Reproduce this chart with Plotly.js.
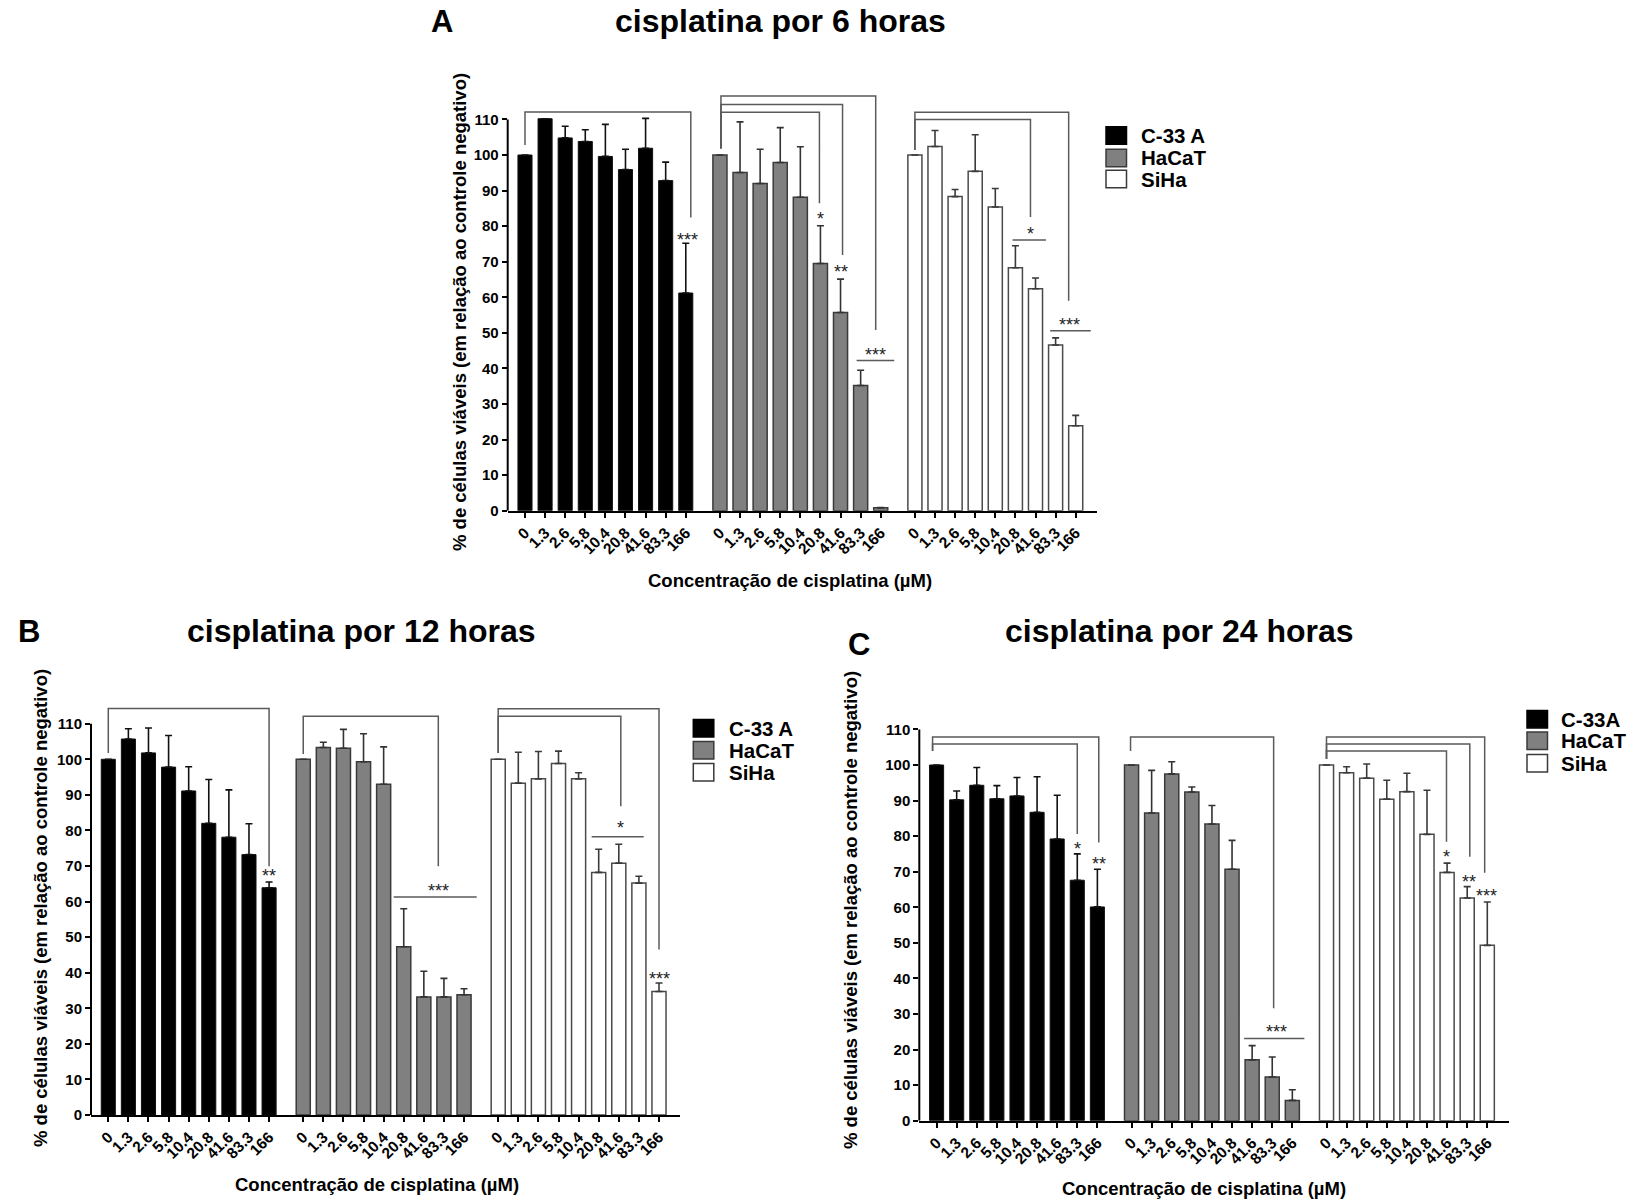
<!DOCTYPE html>
<html><head><meta charset="utf-8">
<script src="https://cdn.plot.ly/plotly-3.0.1.min.js"></script>
<style>html,body{margin:0;padding:0;background:#fff}#chart{width:1636px;height:1200px}</style>
</head><body><div id="chart"></div>
<script>
// ---------------- DATA ----------------
const conc = ['0','1.3','2.6','5.8','10.4','20.8','41.6','83.3','166'];
const yTickVals = [0,10,20,30,40,50,60,70,80,90,100,110];

// Panel A: cisplatina por 6 horas
const c33_6h      = [100,110.2,104.8,103.8,99.6,95.9,101.9,92.8,61.2];
const c33_6h_sd   = [0,0,3.3,3.3,9.0,5.7,8.4,5.2,14.0];
const hacat_6h    = [100,95.1,92.0,97.9,88.1,69.5,55.7,35.2,0.8];
const hacat_6h_sd = [0,14.2,9.6,9.8,14.2,10.6,9.4,4.3,0.1];
const siha_6h     = [100,102.4,88.3,95.4,85.4,68.3,62.4,46.6,23.9];
const siha_6h_sd  = [0,4.5,2.0,10.3,5.2,6.2,3.0,2.0,2.9];

// Panel B: cisplatina por 12 horas
const c33_12h      = [100,105.7,101.8,97.8,91.1,82.0,78.1,73.2,63.9];
const c33_12h_sd   = [0,2.9,7.0,8.9,6.8,12.3,13.3,8.7,1.6];
const hacat_12h    = [100,103.3,103.1,99.3,93.0,47.3,33.2,33.2,33.8];
const hacat_12h_sd = [0,1.5,5.3,7.9,10.5,10.7,7.2,5.2,1.7];
const siha_12h     = [100,93.3,94.5,98.8,94.5,68.2,70.8,65.2,34.7];
const siha_12h_sd  = [0,8.7,7.7,3.5,1.7,6.5,5.3,1.9,2.4];

// Panel C: cisplatina por 24 horas
const c33_24h      = [100,90.2,94.3,90.5,91.3,86.7,79.2,67.6,60.1];
const c33_24h_sd   = [0,2.5,5.0,3.7,5.2,10.0,12.3,7.4,10.6];
const hacat_24h    = [100,86.5,97.5,92.4,83.4,70.7,17.1,12.3,5.7];
const hacat_24h_sd = [0,12.0,3.4,1.4,5.2,8.1,4.0,5.6,3.0];
const siha_24h     = [100,97.8,96.3,90.4,92.5,80.5,69.8,62.6,49.3];
const siha_24h_sd  = [0,1.7,4.0,5.3,5.2,12.4,2.6,3.2,12.2];

// Significance brackets: [cell group, left index, right index, left-leg bottom, top, right-leg bottom]
const brackets_6h = [[0,0,8.25,102.8,112.1,82.4],[1,0.05,4.95,101.8,112.0,86.4],[1,0.05,6.1,101.8,114.2,71.9],
                     [1,0.05,7.75,101.8,116.6,50.8],[2,0,5.75,101.4,110.0,82.6],[2,0,7.65,101.4,112.0,59.0]];
const stars_6h = [[0,8.1,77.4,'***'],[1,5.0,83.1,'*'],[1,6.0,68.4,'**'],[1,7.75,45.0,'***'],[2,5.75,78.9,'*'],[2,7.7,53.4,'***']];
const lines_6h = [[1,6.8,8.67,42.2],[2,4.86,6.52,76.1],[2,6.73,8.75,50.6]];

const brackets_12h = [[0,0,8,101.8,114.3,69.9],[1,0,6.72,101.5,112.1,69.9],[2,0,6.1,101.8,112.1,86.8],[2,0,8.0,101.8,114.2,46.5]];
const stars_12h = [[0,8,68.4,'**'],[1,6.74,64.1,'***'],[2,6.1,81.8,'*'],[2,8.0,39.5,'***']];
const lines_12h = [[1,4.5,8.63,61.3],[2,4.65,7.24,78.2]];

const brackets_24h = [[0,-0.2,7,103.9,105.9,80.6],[0,-0.2,8.07,103.9,107.9,78.2],[1,-0.05,7.07,103.9,107.9,31.6],
                      [2,0,5.97,101.7,103.9,78.4],[2,0,7.13,101.7,105.9,74.2],[2,0,7.87,101.7,107.9,69.7]];
const stars_24h = [[0,7,77.7,'*'],[0,8.1,73.5,'**'],[1,7.2,26.0,'***'],[2,5.97,75.4,'*'],[2,7.1,68.4,'**'],[2,7.94,64.3,'***']];
const lines_24h = [[1,5.6,8.6,23.1]];

// ---------------- LAYOUT / STYLE ----------------
const W = 1636, H = 1200;
const FONT = 'Liberation Sans, Arial, Helvetica, sans-serif';
const GROUP = 9.7, BARW = 0.7, XR = [-0.86, 28.46];
const YMAX = 118, PXY = 3.557, PLOTW = 589.3;
const px = v => v / W, py = v => 1 - v / H;

const styles = [
  {fill:'#000000', line:'#111111', err:'#111111'},
  {fill:'#808080', line:'#3a3a3a', err:'#333333'},
  {fill:'#ffffff', line:'#4a4a4a', err:'#3a3a3a'}
];

const panels = [
  {ax:'', left:507.7, zero:510.7, series:[[c33_6h,c33_6h_sd],[hacat_6h,hacat_6h_sd],[siha_6h,siha_6h_sd]],
   brackets:brackets_6h, stars:stars_6h, lines:lines_6h,
   title:'cisplatina por 6 horas', titleX:780.8, titleY:21, letter:'A', letX:429, letY:22,
   yTitleX:459, yTitleY:312, xTitleX:790, xTitleY:580,
   legend:{x:1106, ys:[135.5,158,179], tx:1139, names:['C-33 A','HaCaT','SiHa']}},
  {ax:'2', left:91, zero:1115, series:[[c33_12h,c33_12h_sd],[hacat_12h,hacat_12h_sd],[siha_12h,siha_12h_sd]],
   brackets:brackets_12h, stars:stars_12h, lines:lines_12h,
   title:'cisplatina por 12 horas', titleX:361.4, titleY:631, letter:'B', letX:16, letY:631,
   yTitleX:40, yTitleY:908, xTitleX:377, xTitleY:1184,
   legend:{x:693.3, ys:[728.3,750.3,772.3], tx:727, names:['C-33 A','HaCaT','SiHa']}},
  {ax:'3', left:919.3, zero:1120.7, series:[[c33_24h,c33_24h_sd],[hacat_24h,hacat_24h_sd],[siha_24h,siha_24h_sd]],
   brackets:brackets_24h, stars:stars_24h, lines:lines_24h,
   title:'cisplatina por 24 horas', titleX:1179, titleY:631, letter:'C', letX:846, letY:644,
   yTitleX:850, yTitleY:910, xTitleX:1204, xTitleY:1188,
   legend:{x:1527, ys:[719.2,740.8,763.2], tx:1559, names:['C-33A','HaCaT','SiHa']}}
];

const traces = [], shapes = [], annotations = [];
const layout = {
  width: W, height: H, margin:{l:0,r:0,t:0,b:0},
  paper_bgcolor:'#ffffff', plot_bgcolor:'rgba(0,0,0,0)',
  showlegend:false, bargap:0,
  font:{family:FONT, color:'#000'}
};

const xPos = (g, i) => g * GROUP + i;
const tickVals = [], tickText = [];
for (let g = 0; g < 3; g++) conc.forEach((c, i) => { tickVals.push(xPos(g, i)); tickText.push(c); });

panels.forEach((p) => {
  const xa = 'x' + p.ax, ya = 'y' + p.ax;
  const top = p.zero - YMAX * PXY;
  layout['xaxis' + p.ax] = {
    domain:[px(p.left), px(p.left + PLOTW)], anchor: ya, range: XR,
    tickmode:'array', tickvals: tickVals, ticktext: tickText, tickangle:-45,
    ticks:'outside', ticklen:5, tickwidth:2, tickcolor:'#000',
    showline:true, linewidth:2, linecolor:'#000', showgrid:false, zeroline:false,
    tickfont:{family:FONT, size:15.5, color:'#000', weight:700}, fixedrange:true
  };
  layout['yaxis' + p.ax] = {
    domain:[py(p.zero), py(top)], anchor: xa, range:[0, YMAX],
    tickmode:'array', tickvals: yTickVals, ticks:'outside', ticklen:5, tickwidth:2, tickcolor:'#000',
    showline:false, showgrid:false, zeroline:false,
    tickfont:{family:FONT, size:15, color:'#000', weight:700}, fixedrange:true
  };
  // y axis line only from 0 to 110
  shapes.push({type:'line', xref: xa + ' domain', yref: ya, x0:0, x1:0, y0:0, y1:110,
               line:{color:'#000', width:2}, layer:'above'});

  p.series.forEach((s, g) => {
    const st = styles[g];
    traces.push({
      type:'bar', xaxis: xa, yaxis: ya,
      x: conc.map((c, i) => xPos(g, i)), y: s[0], width: BARW,
      marker:{color: st.fill, line:{color: st.line, width: g === 0 ? 1 : 1.5}},
      error_y:{type:'data', symmetric:false, array: s[1], arrayminus: s[1].map(() => 0),
               color: st.err, thickness:1.6, width:3.5},
      hoverinfo:'skip', showlegend:false
    });
  });

  p.brackets.forEach(b => {
    const xl = xPos(b[0], b[1]), xr = xPos(b[0], b[2]);
    shapes.push({type:'path', xref: xa, yref: ya,
      path:`M${xl},${b[3]} L${xl},${b[4]} L${xr},${b[4]} L${xr},${b[5]}`,
      line:{color:'#5a5a5a', width:1.5}});
  });
  p.lines.forEach(l => {
    shapes.push({type:'line', xref: xa, yref: ya, x0: xPos(l[0], l[1]), x1: xPos(l[0], l[2]), y0: l[3], y1: l[3],
      line:{color:'#5a5a5a', width:1.5}});
  });
  p.stars.forEach(s => {
    annotations.push({xref: xa, yref: ya, x: xPos(s[0], s[1]), y: s[2] - 1.2, text: s[3], showarrow:false,
      xanchor:'center', yanchor:'middle', font:{family:FONT, size:18, color:'#222'}});
  });

  // titles
  annotations.push({xref:'paper', yref:'paper', x: px(p.titleX), y: py(p.titleY), text: p.title, showarrow:false,
    xanchor:'center', yanchor:'middle', font:{family:FONT, size:32, color:'#000', weight:'bold'}});
  annotations.push({xref:'paper', yref:'paper', x: px(p.letX), y: py(p.letY), text: p.letter, showarrow:false,
    xanchor:'left', yanchor:'middle', font:{family:FONT, size:31, color:'#000', weight:'bold'}});
  annotations.push({xref:'paper', yref:'paper', x: px(p.yTitleX), y: py(p.yTitleY), textangle:-90,
    text:'% de células viáveis (em relação ao controle negativo)', showarrow:false,
    xanchor:'center', yanchor:'middle', font:{family:FONT, size:18.5, color:'#000', weight:'bold'}});
  annotations.push({xref:'paper', yref:'paper', x: px(p.xTitleX), y: py(p.xTitleY),
    text:'Concentração de cisplatina (µM)', showarrow:false,
    xanchor:'center', yanchor:'middle', font:{family:FONT, size:18.5, color:'#000', weight:'bold'}});

  // legend
  p.legend.ys.forEach((yc, g) => {
    const st = styles[g];
    shapes.push({type:'rect', xref:'paper', yref:'paper',
      x0: px(p.legend.x), x1: px(p.legend.x + 20.5), y0: py(yc - 8.7), y1: py(yc + 8.7),
      fillcolor: st.fill, line:{color: g === 0 ? '#000' : '#3a3a3a', width:1.5}});
    annotations.push({xref:'paper', yref:'paper', x: px(p.legend.tx), y: py(yc), text: p.legend.names[g],
      showarrow:false, xanchor:'left', yanchor:'middle', font:{family:FONT, size:20.5, color:'#000', weight:'bold'}});
  });
});

layout.shapes = shapes;
layout.annotations = annotations;
Plotly.newPlot('chart', traces, layout, {staticPlot:true, displayModeBar:false});
</script>
</body></html>
